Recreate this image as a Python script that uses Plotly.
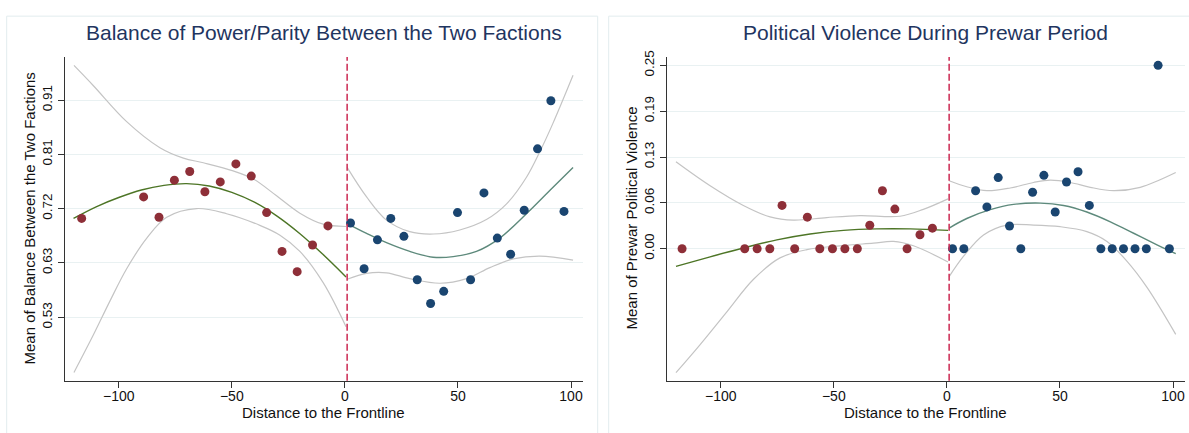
import plotly.graph_objects as go

# ---------------- Data: Panel 1 (Balance of power) ----------------
bal_left_x = [-116.4, -89.0, -82.2, -75.4, -68.6, -61.9, -55.1, -48.2, -41.4, -34.6, -27.8, -21.1, -14.3, -7.5]
bal_left_y = [0.702, 0.739, 0.704, 0.768, 0.783, 0.748, 0.765, 0.796, 0.775, 0.712, 0.645, 0.610, 0.656, 0.689]
bal_right_x = [2.5, 8.5, 14.4, 20.3, 26.1, 32.0, 37.9, 43.7, 49.8, 55.6, 61.5, 67.4, 73.3, 79.3, 85.2, 91.1, 96.9]
bal_right_y = [0.694, 0.615, 0.665, 0.702, 0.671, 0.596, 0.555, 0.576, 0.712, 0.596, 0.746, 0.668, 0.640, 0.716, 0.822, 0.905, 0.714]

bal_fitL_x = [-120, -110, -100, -90, -80, -70, -60, -50, -40, -30, -20, -10, 0.5]
bal_fitL_y = [0.702, 0.722, 0.738, 0.751, 0.759, 0.762, 0.758, 0.747, 0.730, 0.706, 0.676, 0.641, 0.601]
bal_ciLu_x = [-119.8, -111.2, -96.5, -81.8, -71.4, -62.6, -49.4, -40.5, -30.2, -19.9, -9.6, 0.5]
bal_ciLu_y = [0.966, 0.931, 0.869, 0.824, 0.806, 0.798, 0.784, 0.770, 0.741, 0.711, 0.692, 0.688]
bal_ciLl_x = [-119.8, -111.2, -103.8, -96.5, -87.6, -78.8, -65.6, -52.3, -37.6, -28.7, -19.9, -9.6, 0.5]
bal_ciLl_y = [0.436, 0.501, 0.560, 0.615, 0.668, 0.704, 0.719, 0.710, 0.690, 0.673, 0.645, 0.591, 0.515]

bal_fitR_x = [1.0, 9.6, 18.4, 28.7, 39.0, 47.9, 58.2, 68.5, 80.3, 90.6, 100.9]
bal_fitR_y = [0.693, 0.676, 0.660, 0.645, 0.635, 0.636, 0.645, 0.668, 0.710, 0.750, 0.790]
bal_ciRu_x = [1.0, 9.6, 18.4, 28.7, 39.0, 50.8, 62.6, 71.5, 80.3, 86.2, 92.0, 100.9]
bal_ciRu_y = [0.790, 0.739, 0.699, 0.679, 0.675, 0.682, 0.700, 0.727, 0.773, 0.817, 0.866, 0.949]
bal_ciRl_x = [1.0, 9.6, 18.4, 28.7, 42.0, 53.8, 64.1, 74.4, 86.2, 100.9]
bal_ciRl_y = [0.597, 0.607, 0.608, 0.598, 0.590, 0.598, 0.617, 0.632, 0.637, 0.630]

bal_ticks = [0.53125, 0.625, 0.71875, 0.8125, 0.90625]
bal_ticktext = ["0.53", "0.63", "0.72", "0.81", "0.91"]

# ---------------- Data: Panel 2 (Political violence) ----------------
vio_left_x = [-117.1, -89.4, -83.9, -78.3, -72.9, -67.3, -61.7, -56.2, -50.6, -45.1, -39.6, -34.1, -28.5, -23.0, -17.6, -11.9, -6.4]
vio_left_y = [0.000, 0.000, 0.000, 0.000, 0.059, 0.000, 0.043, 0.000, 0.000, 0.000, 0.000, 0.032, 0.079, 0.054, 0.000, 0.019, 0.028]
vio_right_x = [2.5, 7.5, 12.7, 17.7, 22.7, 27.7, 32.7, 37.9, 42.9, 47.9, 52.9, 58.0, 63.0, 68.1, 73.1, 78.1, 83.2, 88.2, 93.4, 98.4]
vio_right_y = [0.000, 0.000, 0.079, 0.057, 0.097, 0.031, 0.000, 0.077, 0.100, 0.050, 0.091, 0.105, 0.059, 0.000, 0.000, 0.000, 0.000, 0.000, 0.250, 0.000]

vio_fitL_x = [-119.8, -104.7, -90.0, -75.2, -60.5, -45.7, -31.0, -16.2, 0.5]
vio_fitL_y = [-0.024, -0.011, 0.001, 0.012, 0.020, 0.025, 0.027, 0.027, 0.025]
vio_ciLu_x = [-119.8, -104.7, -90.0, -78.2, -67.9, -53.1, -38.4, -20.7, -10.4, 0.5]
vio_ciLu_y = [0.1186, 0.0859, 0.059, 0.0434, 0.0389, 0.0425, 0.0452, 0.0443, 0.0537, 0.068]
vio_ciLl_x = [-119.8, -109.2, -97.3, -85.6, -73.8, -61.9, -47.2, -32.5, -23.6, -14.8, 0.5]
vio_ciLl_y = [-0.169, -0.131, -0.086, -0.042, -0.0125, -0.0013, 0.004, 0.0076, 0.0099, 0.004, -0.018]

vio_fitR_x = [1.0, 8.8, 19.2, 29.5, 41.3, 51.6, 61.9, 72.3, 82.6, 92.9, 101.2]
vio_fitR_y = [0.0282, 0.0412, 0.0532, 0.0604, 0.0622, 0.0590, 0.0501, 0.0367, 0.0211, 0.0054, -0.0067]
vio_ciRu_x = [1.0, 8.8, 17.7, 28.0, 38.3, 45.7, 54.6, 63.4, 73.7, 85.5, 101.2]
vio_ciRu_y = [0.0926, 0.0845, 0.0791, 0.0828, 0.0903, 0.0935, 0.0903, 0.0837, 0.0791, 0.0837, 0.1038]
vio_ciRl_x = [1.0, 7.4, 16.2, 26.5, 38.3, 50.1, 61.9, 70.8, 79.6, 88.5, 101.2]
vio_ciRl_y = [-0.038, -0.0102, 0.0188, 0.0322, 0.0322, 0.030, 0.0233, 0.0099, -0.0169, -0.0527, -0.1167]

vio_ticks = [0.0, 0.0625, 0.125, 0.1875, 0.25]
vio_ticktext = ["0.00", "0.06", "0.13", "0.19", "0.25"]

x_ticks = [-100, -50, 0, 50, 100]
cutoff = 1.0

# ---------------- Styling ----------------
W, H = 1189, 433
FONT = "Liberation Sans, Arial, Helvetica, sans-serif"
RED = "#8e2f38"
BLUE = "#1a4570"
GREEN_L = "#4d7526"
GREEN_R = "#5e8a7c"
CI = "#c4c4c4"
GRID = "#e9f1f2"
AXIS = "#333333"
TITLE = "#1f3560"
DASH = "#cc2a52"
TXT = "#111111"

fig = go.Figure()


def add_panel(xa, ya, lx, ly, rx, ry, fits):
    for (cx, cy, col, w) in fits:
        fig.add_trace(go.Scatter(x=cx, y=cy, mode="lines", line=dict(color=col, width=w, shape="spline", smoothing=1.0),
                                 xaxis=xa, yaxis=ya, hoverinfo="skip", showlegend=False))
    fig.add_trace(go.Scatter(x=lx, y=ly, mode="markers", marker=dict(color=RED, size=9),
                             xaxis=xa, yaxis=ya, showlegend=False))
    fig.add_trace(go.Scatter(x=rx, y=ry, mode="markers", marker=dict(color=BLUE, size=9),
                             xaxis=xa, yaxis=ya, showlegend=False))


add_panel("x", "y", bal_left_x, bal_left_y, bal_right_x, bal_right_y, [
    (bal_ciLu_x, bal_ciLu_y, CI, 1.2), (bal_ciLl_x, bal_ciLl_y, CI, 1.2),
    (bal_ciRu_x, bal_ciRu_y, CI, 1.2), (bal_ciRl_x, bal_ciRl_y, CI, 1.2),
    (bal_fitL_x, bal_fitL_y, GREEN_L, 1.4), (bal_fitR_x, bal_fitR_y, GREEN_R, 1.4),
])
add_panel("x2", "y2", vio_left_x, vio_left_y, vio_right_x, vio_right_y, [
    (vio_ciLu_x, vio_ciLu_y, CI, 1.2), (vio_ciLl_x, vio_ciLl_y, CI, 1.2),
    (vio_ciRu_x, vio_ciRu_y, CI, 1.2), (vio_ciRl_x, vio_ciRl_y, CI, 1.2),
    (vio_fitL_x, vio_fitL_y, GREEN_L, 1.4), (vio_fitR_x, vio_fitR_y, GREEN_R, 1.4),
])

y0p = 1 - 380 / H
y1p = 1 - 50.7 / H
xr = [-123.9, 105.3]

common_x = dict(range=xr, tickvals=x_ticks, ticks="outside", ticklen=6, tickcolor=AXIS, tickwidth=1,
                showline=True, linecolor=AXIS, linewidth=1, showgrid=False, zeroline=False,
                ticklabelstandoff=-4,
                tickfont=dict(family=FONT, size=14, color=TXT))
common_y = dict(ticks="outside", ticklen=6, tickcolor=AXIS, tickwidth=1, tickangle=-90,
                showline=True, linecolor=AXIS, linewidth=1, showgrid=True, gridcolor=GRID, gridwidth=1,
                zeroline=False, tickfont=dict(family=FONT, size=13.5, color=TXT))

fig.update_layout(
    width=W, height=H, margin=dict(l=0, r=0, t=0, b=0), autosize=False,
    paper_bgcolor="white", plot_bgcolor="white",
    font=dict(family=FONT),
    xaxis=dict(domain=[64.7 / W, 583 / W], anchor="y", **common_x),
    yaxis=dict(domain=[y0p, y1p], anchor="x", range=[0.4215, 0.9808], tickvals=bal_ticks, ticktext=bal_ticktext, **common_y),
    xaxis2=dict(domain=[666.7 / W, 1185 / W], anchor="y2", **common_x),
    yaxis2=dict(domain=[y0p, y1p], anchor="x2", range=[-0.1801, 0.2615], tickvals=vio_ticks, ticktext=vio_ticktext, **common_y),
)

# dashed cutoff lines
for xa, ya in (("x", "y domain"), ("x2", "y2 domain")):
    fig.add_shape(type="line", xref=xa, yref=ya, x0=cutoff, x1=cutoff, y0=0, y1=1,
                  line=dict(color=DASH, width=1.5, dash="7px,3px"), layer="above")

# panel frames
fig.add_shape(type="rect", xref="paper", yref="paper", x0=6.7 / W, x1=597.7 / W, y0=-0.05, y1=1 - 9.3 / H,
              line=dict(color="#e2ecee", width=1), layer="below")
fig.add_shape(type="rect", xref="paper", yref="paper", x0=608.7 / W, x1=1.05, y0=-0.05, y1=1 - 9.3 / H,
              line=dict(color="#e2ecee", width=1), layer="below")

# titles
fig.add_annotation(text="Balance of Power/Parity Between the Two Factions", xref="paper", yref="paper",
                   x=(64.7 + 583) / 2 / W, y=1 - 26 / H, showarrow=False, xanchor="center", yanchor="middle",
                   font=dict(family=FONT, size=21, color=TITLE))
fig.add_annotation(text="Political Violence During Prewar Period", xref="paper", yref="paper",
                   x=(666.7 + 1185) / 2 / W, y=1 - 26 / H, showarrow=False, xanchor="center", yanchor="middle",
                   font=dict(family=FONT, size=21, color=TITLE))

# axis titles
for cx in ((64.7 + 583) / 2, (666.7 + 1185) / 2):
    fig.add_annotation(text="Distance to the Frontline", xref="paper", yref="paper",
                       x=cx / W, y=1 - 412 / H, showarrow=False, xanchor="center", yanchor="middle",
                       font=dict(family=FONT, size=15, color=TXT))
fig.add_annotation(text="Mean of Balance Between the Two Factions", xref="paper", yref="paper",
                   x=30 / W, y=1 - 215 / H, showarrow=False, textangle=-90, xanchor="center", yanchor="middle",
                   font=dict(family=FONT, size=15, color=TXT))
fig.add_annotation(text="Mean of Prewar Political Violence", xref="paper", yref="paper",
                   x=632 / W, y=1 - 215 / H, showarrow=False, textangle=-90, xanchor="center", yanchor="middle",
                   font=dict(family=FONT, size=15, color=TXT))

fig.write_html("out.html", config={"displayModeBar": False},
               post_script="document.body.style.margin='0';")
